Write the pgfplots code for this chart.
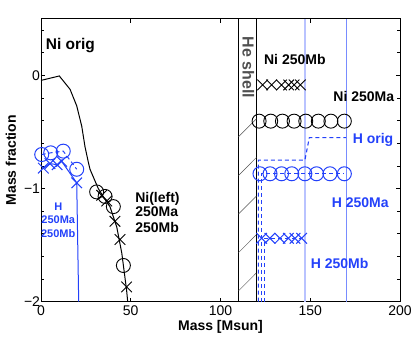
\documentclass[border=0pt]{standalone}
\usepackage{pgfplots}
\pgfplotsset{compat=1.18}
\usepackage{fontspec}
\setmainfont{Liberation Sans}
\definecolor{hblue}{RGB}{35,65,250}
\definecolor{lightb}{RGB}{185,195,255}
\definecolor{midb}{RGB}{120,140,255}
\definecolor{hegray}{RGB}{80,80,80}
\begin{document}
\begin{tikzpicture}
\begin{axis}[
  scale only axis, width=359pt, height=283pt,
  xmin=0, xmax=200, ymin=-2, ymax=0.5,
  xtick={0,50,100,150,200},
  ytick={-2,-1,0}, yticklabels={−2,−1,0},
  minor ytick={-1.8,-1.6,-1.4,-1.2,-0.8,-0.6,-0.4,-0.2,0.2,0.4},
  tick align=inside,
  major tick length=4pt, minor tick length=3pt,
  tick style={black, line width=0.6pt},
  axis line style={line width=0.8pt},
  tick label style={font=\fontsize{14}{16}\selectfont},
  yticklabel style={xshift=2.5pt},
  /pgf/number format/assume math mode=true,
  xlabel={Mass [Msun]}, ylabel={Mass fraction},
  every axis x label/.style={at={(axis description cs:0.5,0)}, anchor=base, yshift=-29.3pt, font=\fontsize{14}{16}\selectfont\bfseries},
  every axis y label/.style={at={(axis description cs:-0.0836,0.5)}, rotate=90, anchor=center, font=\fontsize{14}{16}\selectfont\bfseries},
  clip=false,
]
% vertical reference lines
\addplot[lightb, line width=2.2pt] coordinates {(147,-2) (147,0.5)};
\addplot[midb, line width=0.8pt] coordinates {(170,-2) (170,0.5)};
\addplot[black, line width=0.8pt] coordinates {(110,-2) (110,0.5)};
\addplot[black, line width=0.8pt] coordinates {(120,-2) (120,0.5)};
% hatching
\addplot[hegray, line width=0.5pt] coordinates {(110,-0.543) (120,-0.384)};
\addplot[hegray, line width=0.5pt] coordinates {(110,-0.885) (120,-0.726)};
\addplot[hegray, line width=0.5pt] coordinates {(110,-1.226) (120,-1.067)};
\addplot[hegray, line width=0.5pt] coordinates {(110,-1.567) (120,-1.408)};
\addplot[hegray, line width=0.5pt] coordinates {(110,-1.905) (120,-1.746)};
% Ni orig
\addplot[black, line width=1pt] coordinates {
 (0,-0.045) (10.2,-0.006) (16.2,-0.124) (19.9,-0.27) (22.7,-0.45) (24.5,-0.63)
 (26.4,-0.77) (27.3,-0.83) (30,-0.93) (31.9,-1.0) (35,-1.08) (38.4,-1.16)
 (42.2,-1.34) (45,-1.57) (47.7,-1.9) (48.3,-2)};
% Ni left marks
\addplot[only marks, mark=o, mark size=7pt, black, line width=0.9pt] coordinates {
 (31,-1.03) (35.7,-1.07) (40.3,-1.16) (45.9,-1.68)};
\addplot[only marks, mark=x, mark size=7.5pt, black, line width=0.9pt] coordinates {
 (33.8,-1.06) (36.6,-1.11) (41.2,-1.29) (44,-1.45) (47.7,-1.87)};
% H left
\addplot[hblue, dash pattern=on 4pt off 3pt, line width=1pt] coordinates {
 (0.4,-0.70) (5.4,-0.685) (12.4,-0.67) (19.9,-0.83)};
\addplot[hblue, only marks, mark=o, mark size=7pt, line width=1pt] coordinates {
 (0.4,-0.70) (5.4,-0.685) (12.4,-0.67) (19.9,-0.83)};
\addplot[hblue, line width=1pt] coordinates {
 (1.3,-0.82) (5,-0.78) (9,-0.79) (11.5,-0.76) (19.9,-0.95) (21,-2)};
\addplot[hblue, only marks, mark=x, mark size=7.5pt, line width=1pt] coordinates {
 (1.3,-0.82) (5,-0.78) (9,-0.79) (11.5,-0.76) (19.9,-0.95)};
% H right
\addplot[hblue, dash pattern=on 4pt off 3pt, line width=1.1pt] coordinates {
 (121.1,-2) (121.1,-0.75) (147,-0.75) (149.5,-0.55) (170,-0.55)};
\addplot[hblue, dash pattern=on 4pt off 3pt, line width=1.1pt] coordinates {
 (122.6,-2) (122.6,-0.87) (169,-0.87)};
\addplot[hblue, dash pattern=on 4pt off 3pt, line width=1.1pt] coordinates {
 (124.4,-2) (124.4,-1.44) (145.2,-1.44)};
\addplot[hblue, only marks, mark=o, mark size=7pt, line width=1pt] coordinates {
 (122,-0.87) (127.6,-0.87) (134,-0.87) (139.7,-0.87) (147,-0.87) (153.5,-0.87) (161,-0.87) (169,-0.87)};
\addplot[hblue, only marks, mark=x, mark size=7.5pt, line width=1pt] coordinates {
 (122.9,-1.44) (127.5,-1.44) (133.1,-1.44) (137.8,-1.44) (141.5,-1.44) (145.2,-1.44)};
% Ni right
\addplot[black, only marks, mark=o, mark size=7pt, line width=0.9pt] coordinates {
 (121.5,-0.405) (128,-0.405) (134.5,-0.405) (141,-0.405) (147.5,-0.405) (154.5,-0.405) (161.5,-0.405) (169,-0.405)};
\addplot[black, only marks, mark=x, mark size=7.5pt, line width=0.9pt] coordinates {
 (123.5,-0.085) (128.5,-0.085) (134,-0.085) (138,-0.085) (141,-0.085) (144.5,-0.085)};
% texts
\node[anchor=base west, inner sep=0, font=\fontsize{15.5}{18}\selectfont\bfseries] at (axis cs:2.6,0.23) {Ni orig};
\node[anchor=base west, inner sep=0, font=\fontsize{14}{16}\selectfont\bfseries] at (axis cs:52.4,-1.12) {Ni(left)};
\node[anchor=base west, inner sep=0, font=\fontsize{14}{16}\selectfont\bfseries] at (axis cs:52.4,-1.247) {250Ma};
\node[anchor=base west, inner sep=0, font=\fontsize{14}{16}\selectfont\bfseries] at (axis cs:52.4,-1.386) {250Mb};
\node[anchor=base, inner sep=0, text=hblue, font=\fontsize{11}{13}\selectfont\bfseries] at (axis cs:9.6,-1.19) {H};
\node[anchor=base, inner sep=0, text=hblue, font=\fontsize{11}{13}\selectfont\bfseries] at (axis cs:9.6,-1.306) {250Ma};
\node[anchor=base, inner sep=0, text=hblue, font=\fontsize{11}{13}\selectfont\bfseries] at (axis cs:9.6,-1.43) {250Mb};
\node[anchor=base west, inner sep=0, font=\fontsize{14}{16}\selectfont\bfseries] at (axis cs:124.2,0.091) {Ni 250Mb};
\node[anchor=base west, inner sep=0, font=\fontsize{14}{16}\selectfont\bfseries] at (axis cs:162.8,-0.228) {Ni 250Ma};
\node[anchor=base west, inner sep=0, text=hblue, font=\fontsize{14}{16}\selectfont\bfseries] at (axis cs:173.6,-0.603) {H orig};
\node[anchor=base west, inner sep=0, text=hblue, font=\fontsize{14}{16}\selectfont\bfseries] at (axis cs:161.9,-1.164) {H 250Ma};
\node[anchor=base west, inner sep=0, text=hblue, font=\fontsize{14}{16}\selectfont\bfseries] at (axis cs:150.2,-1.705) {H 250Mb};
\node[rotate=-90, anchor=west, inner sep=0, text=hegray, font=\fontsize{16}{18}\selectfont\bfseries] at (axis cs:115.5,0.343) {He shell};
\end{axis}
\pgfresetboundingbox
\path (-41pt,-35.3pt) rectangle (374pt,301.7pt);
\end{tikzpicture}
\end{document}
